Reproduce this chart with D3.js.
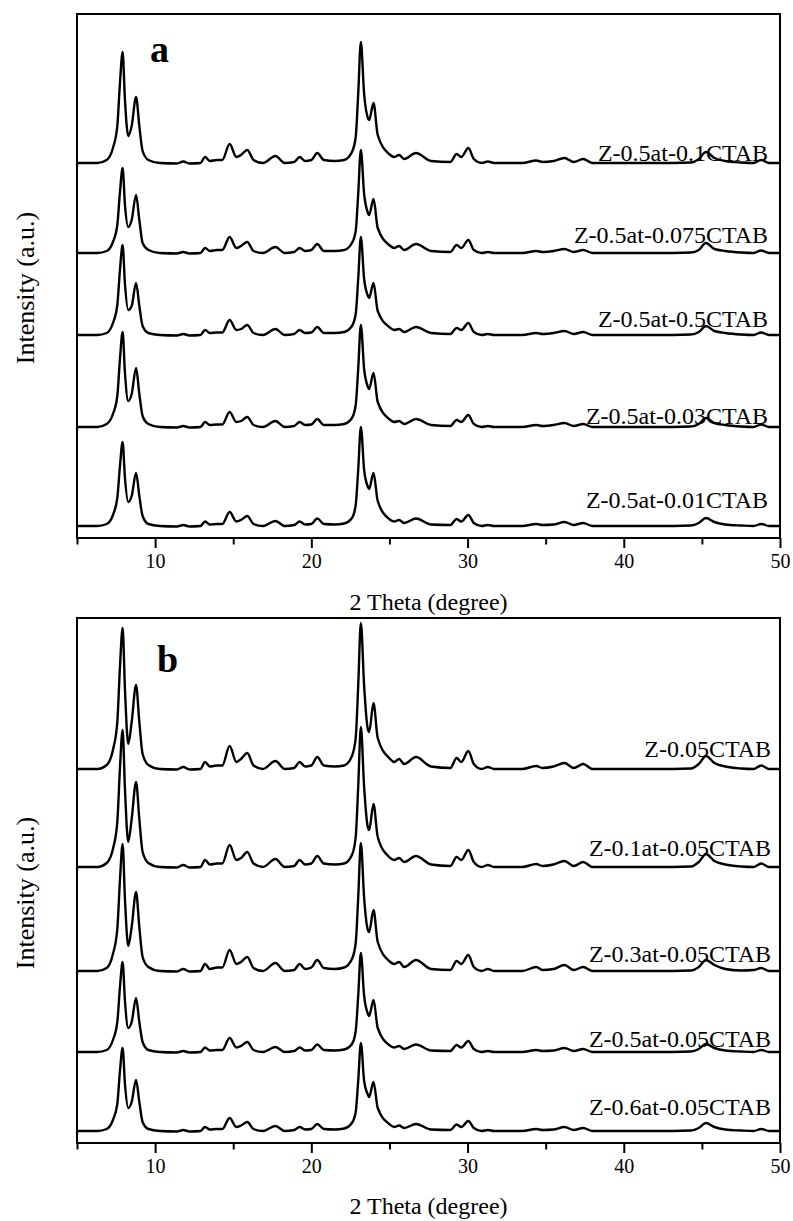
<!DOCTYPE html>
<html>
<head>
<meta charset="utf-8">
<script src="https://cdn.jsdelivr.net/npm/d3@7"></script>
<style>
  body { margin: 0; background: #fff; }
  svg text { font-family: "Liberation Serif", "Times New Roman", serif; fill: #000; }
</style>
</head>
<body>
<svg id="chart" width="793" height="1221"></svg>
<script>
// 2 theta sampling points (degree), shared by every pattern
const twoTheta = [
  5, 6.3, 6.9, 7.3, 7.58, 7.75, 7.92, 8.07, 8.28, 8.5, 8.78, 8.99, 9.2, 9.57, 10.3,
  11.4, 11.8, 12.2, 12.9, 13.2, 13.5, 13.96, 14.3,
  14.77, 15.2, 15.5, 15.9, 16.3, 16.9,
  17.7, 18.3, 18.9, 19.25, 19.6, 20.0, 20.38, 20.8, 21.5, 22.1,
  22.6, 22.84, 23.0, 23.17, 23.38, 23.6, 23.7, 23.98, 24.25, 24.98,
  25.3, 25.62, 25.94, 26.7, 27.66, 28.9, 29.3, 29.6, 30.05, 30.4,
  30.9, 31.3, 31.7, 33.5, 34.4, 34.8, 35.5, 36.2, 36.8, 37.4, 38.0,
  40, 42, 44.3, 44.8, 45.26, 45.8, 46.5, 47.5, 48.3, 48.8, 49.3, 50
];

// panel a
const labelsA = ['Z-0.5at-0.1CTAB', 'Z-0.5at-0.075CTAB', 'Z-0.5at-0.5CTAB', 'Z-0.5at-0.03CTAB', 'Z-0.5at-0.01CTAB'];
const offsetsA = [375, 285, 203, 111, 12];
const a1 = [
  0, 0, 3, 15, 37, 80, 111, 63, 27, 37, 66, 37, 12, 3, 0,
  -0.5, 1.5, -0.5, 0, 6, 2, 3, 3,
  19, 6, 8, 13, 3, 0,
  7, 0, 1, 6, 2, 3, 10, 3, 2, 3,
  11, 26, 69, 121, 69, 46, 43, 60, 28, 9,
  6, 8, 4, 10, 2, 1, 9, 6, 15, 4,
  0, 1.5, 0, 0, 2.5, 1, 2, 5, 1, 4, 0,
  0, 0, 0.5, 4, 11, 5, 2, 0.5, 0, 3, 0, 0
];
const a2 = [
  0, 0, 2, 11, 28, 61, 85, 48, 26, 33, 58, 33, 10, 3, 0,
  -0.5, 1, -0.5, 0, 5, 2, 3, 3,
  16, 5, 7, 11, 2, 0,
  6, 0, 1, 5, 2, 3, 9, 2, 2, 3,
  10, 22, 59, 103, 59, 41, 38, 54, 25, 8,
  5, 7, 3, 9, 2, 1, 8, 5, 13, 3,
  0, 1, 0, 0, 2, 1, 2, 4, 1, 3, 0,
  0, 0, 0.5, 3, 10, 4, 2, 0.5, 0, 2.5, 0, 0
];
const a3 = [
  0, 0, 2, 12, 30, 65, 90, 51, 25, 29, 52, 29, 9, 2, 0,
  -0.5, 1, -0.5, 0, 5, 2, 2.5, 2.5,
  15, 5, 6, 10, 2, 0,
  6, 0, 1, 5, 2, 2.5, 8, 2, 2, 3,
  9, 21, 56, 98, 56, 40, 37, 52, 24, 8,
  5, 6, 3, 8, 2, 1, 7, 5, 12, 3,
  0, 1, 0, 0, 2, 1, 2, 4, 1, 3, 0,
  0, 0, 0.5, 3, 9, 4, 2, 0.5, 0, 2.5, 0, 0
];
const a4 = [
  0, 0, 3, 13, 31, 68, 95, 54, 26, 33, 59, 33, 11, 3, 0,
  -0.5, 1, -0.5, 0, 5, 2, 2.5, 2.5,
  15, 5, 6, 10, 2, 0,
  6, 0, 1, 5, 2, 2.5, 8, 2, 2, 3,
  9, 22, 58, 102, 58, 41, 38, 54, 25, 8,
  5, 6, 3, 8, 2, 1, 7, 5, 12, 3,
  0, 1, 0, 0, 2, 1, 2, 4, 1, 3, 0,
  0, 0, 0.5, 3, 9, 4, 2, 0.5, 0, 2.5, 0, 0
];
const a5 = [
  0, 0, 2, 11, 28, 60, 84, 48, 24, 30, 53, 30, 10, 2, 0,
  -0.5, 1, -0.5, 0, 4.5, 1.5, 2, 2,
  14, 4.5, 6, 10, 2, 0,
  5, 0, 1, 4.5, 1.5, 2, 7.5, 2, 1.5, 2.5,
  8, 21, 56, 99, 56, 40, 37, 53, 25, 7,
  4.5, 6, 3, 7.5, 1.5, 1, 7, 4.5, 11, 3,
  0, 1, 0, 0, 2, 1, 1.5, 4, 1, 3, 0,
  0, 0, 0.5, 3, 8, 4, 1.5, 0.5, 0, 2, 0, 0
];

// panel b
const labelsB = ['Z-0.05CTAB', 'Z-0.1at-0.05CTAB', 'Z-0.3at-0.05CTAB', 'Z-0.5at-0.05CTAB', 'Z-0.6at-0.05CTAB'];
const offsetsB = [374, 276, 172, 91, 12];
const b1 = [
  0, 0, 4, 19, 47, 102, 141, 80, 25, 47, 84, 47, 15, 4, 0,
  -0.5, 2, -0.5, 0, 7, 2.5, 3.5, 3.5,
  23, 7, 10, 16, 3.5, 0,
  8, 0, 1, 7, 2.5, 3.5, 12, 3.5, 2.5, 3.5,
  13, 31, 83, 146, 83, 41, 37, 66, 31, 11,
  7, 10, 5, 12, 2.5, 1, 11, 7, 18, 5,
  0, 2, 0, 0, 3, 1, 2.5, 6, 1, 5, 0,
  0, 0, 0.5, 5, 13, 6, 2.5, 0.5, 0, 3.5, 0, 0
];
const b2 = [
  0, 0, 4, 18, 45, 99, 137, 78, 25, 48, 85, 48, 15, 4, 0,
  -0.5, 2, -0.5, 0, 7, 2.5, 3.5, 3.5,
  22, 7, 9, 15, 3.5, 0,
  8, 0, 1, 7, 2.5, 3.5, 11, 3.5, 2.5, 3.5,
  12, 30, 80, 140, 80, 41, 37, 63, 30, 10,
  7, 9, 5, 11, 2.5, 1, 10, 7, 17, 5,
  0, 2, 0, 0, 3, 1, 2.5, 6, 1, 5, 0,
  0, 0, 0.5, 5, 13, 6, 2.5, 0.5, 0, 3.5, 0, 0
];
const b3 = [
  0, 0, 3, 17, 42, 91, 127, 72, 25, 44, 79, 44, 14, 4, 0,
  -0.5, 2, -0.5, 0, 7, 2, 3.5, 3.5,
  21, 7, 9, 14, 3, 0,
  8, 0, 1, 7, 2, 3.5, 11, 3, 2, 3.5,
  12, 28, 73, 128, 73, 42, 39, 61, 29, 10,
  7, 9, 4, 11, 2, 1, 10, 7, 16, 4,
  0, 2, 0, 0, 4, 1, 2, 6, 1, 4, 0,
  0, 0, 0.5, 4, 11, 6, 2, 0.5, 1, 3, 0, 0
];
const b4 = [
  0, 0, 2, 12, 30, 65, 90, 51, 24, 30, 54, 30, 10, 2, 0,
  -0.5, 1, -0.5, 0, 4.5, 1.5, 2, 2,
  14, 4.5, 6, 10, 2, 0,
  5, 0, 1, 4.5, 1.5, 2, 7.5, 2, 1.5, 2.5,
  8, 21, 56, 99, 56, 39, 36, 52, 24, 7,
  4.5, 6, 3, 7.5, 1.5, 1, 7, 4.5, 11, 3,
  0, 1, 0, 0, 2, 1, 1.5, 4, 1, 3, 0,
  0, 0, 0.5, 3, 8, 4, 1.5, 0.5, 0, 2, 0, 0
];
const b5 = [
  0, 0, 2, 11, 27, 60, 83, 47, 23, 29, 51, 29, 9, 2, 0,
  -0.5, 1, -0.5, 0, 4, 1.5, 2, 2,
  13, 4, 5.5, 9, 2, 0,
  5, 0, 1, 4, 1.5, 2, 7, 2, 1.5, 2.5,
  8, 19, 50, 88, 50, 37, 34, 49, 23, 7,
  4, 5.5, 3, 7, 1.5, 1, 6.5, 4, 10, 3,
  0, 1, 0, 0, 2, 1, 1.5, 4, 1, 3, 0,
  0, 0, 0.5, 3, 8, 4, 1.5, 0.5, 0, 2, 0, 0
];

const majorTicks = [10, 20, 30, 40, 50];
const minorTicks = [5, 15, 25, 35, 45];

const svg = d3.select('#chart');

const panels = [
  { letter: 'a', series: [a1, a2, a3, a4, a5], labels: labelsA, offsets: offsetsA,
    top: 14, bottom: 538, lift: [2, 10, 8, 3, 18], labelX: 768,
    letterX: 150, letterY: 62, titleY: 610, yTitleY: 288 },
  { letter: 'b', series: [b1, b2, b3, b4, b5], labels: labelsB, offsets: offsetsB,
    top: 618, bottom: 1143, lift: [12, 11, 9, 5, 16], labelX: 771,
    letterX: 157, letterY: 672, titleY: 1214, yTitleY: 893 }
];

const left = 77, right = 780;

const x = d3.scaleLinear().domain([5, 50]).range([left, right]);

panels.forEach(p => {
  const y = d3.scaleLinear().domain([0, p.bottom - p.top]).range([p.bottom, p.top]);
  const g = svg.append('g');

  // frame
  g.append('rect')
    .attr('x', left).attr('y', p.top)
    .attr('width', right - left).attr('height', p.bottom - p.top)
    .attr('fill', 'none').attr('stroke', '#000').attr('stroke-width', 2);

  // x axis, major + minor ticks
  const major = g.append('g')
    .attr('transform', `translate(0,${p.bottom})`)
    .call(d3.axisBottom(x).tickValues(majorTicks).tickSize(10).tickSizeOuter(0).tickPadding(6));
  major.select('.domain').remove();
  major.selectAll('line').attr('stroke-width', 2);
  major.selectAll('text')
    .attr('font-size', 20)
    .style('font-family', '"Liberation Serif", serif');

  const minor = g.append('g')
    .attr('transform', `translate(0,${p.bottom})`)
    .call(d3.axisBottom(x).tickValues(minorTicks).tickSize(6.5).tickSizeOuter(0).tickFormat(''));
  minor.select('.domain').remove();
  minor.selectAll('line').attr('stroke-width', 2);

  g.append('text')
    .attr('x', (left + right) / 2)
    .attr('y', p.titleY)
    .attr('text-anchor', 'middle')
    .attr('font-size', 24)
    .text('2 Theta (degree)');

  g.append('text')
    .attr('transform', `translate(34,${p.yTitleY}) rotate(-90)`)
    .attr('text-anchor', 'middle')
    .attr('font-size', 26)
    .text('Intensity (a.u.)');

  g.append('text')
    .attr('x', p.letterX)
    .attr('y', p.letterY)
    .attr('font-size', 38)
    .attr('font-weight', 'bold')
    .text(p.letter);

  // patterns
  p.series.forEach((vals, k) => {
    const line = d3.line()
      .x((d, i) => x(twoTheta[i]))
      .y(d => y(p.offsets[k] + d))
      .curve(d3.curveMonotoneX);

    g.append('path')
      .datum(vals)
      .attr('d', line)
      .attr('fill', 'none')
      .attr('stroke', '#000')
      .attr('stroke-width', 2.4)
      .attr('stroke-linejoin', 'round');

    g.append('text')
      .attr('x', p.labelX)
      .attr('y', y(p.offsets[k]) - p.lift[k])
      .attr('text-anchor', 'end')
      .attr('font-size', 24)
      .text(p.labels[k]);
  });
});
</script>
</body>
</html>
